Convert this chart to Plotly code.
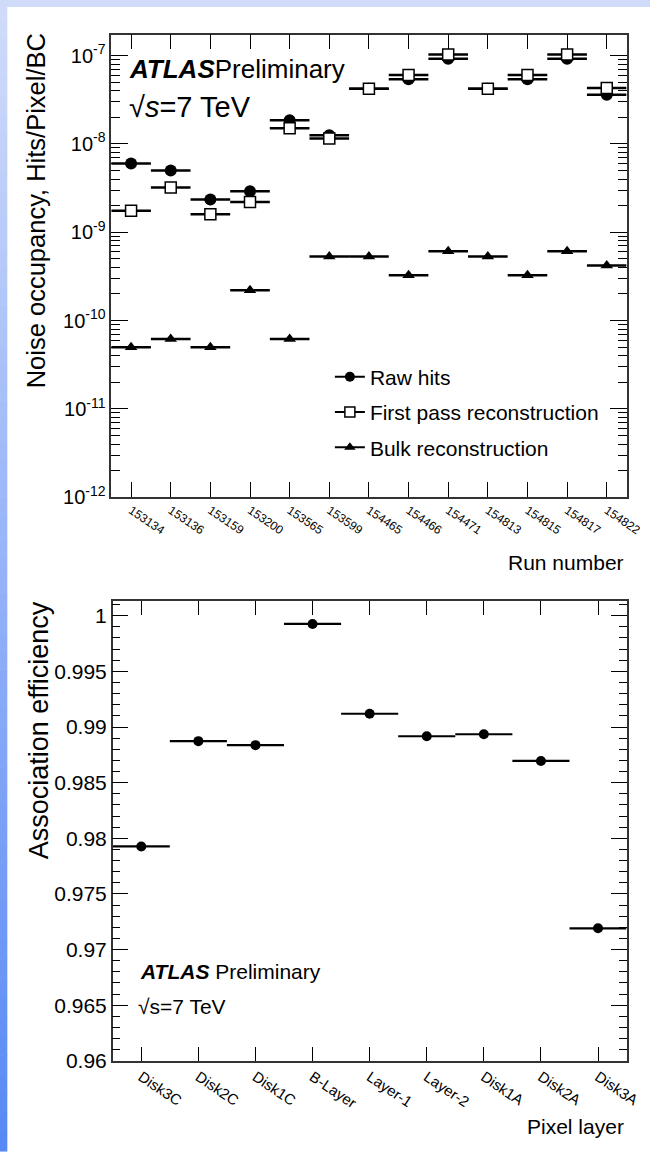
import plotly.graph_objects as go

# ---------------- data ----------------
runs = ["153134", "153136", "153159", "153200", "153565", "153599", "154465",
        "154466", "154471", "154813", "154815", "154817", "154822"]
raw_hits = [6.0e-9, 5.0e-9, 2.35e-9, 2.9e-9, 1.85e-8, 1.25e-8, 4.2e-8,
            5.4e-8, 9.2e-8, 4.2e-8, 5.4e-8, 9.2e-8, 3.6e-8]
first_pass = [1.75e-9, 3.2e-9, 1.6e-9, 2.2e-9, 1.5e-8, 1.15e-8, 4.2e-8,
              6.0e-8, 1.03e-7, 4.2e-8, 6.0e-8, 1.03e-7, 4.3e-8]
bulk = [5.0e-11, 6.2e-11, 5.0e-11, 2.2e-10, 6.2e-11, 5.3e-10, 5.3e-10,
        3.25e-10, 6.1e-10, 5.3e-10, 3.25e-10, 6.1e-10, 4.2e-10]

occ_tickvals = [1e-12, 1e-11, 1e-10, 1e-9, 1e-8, 1e-7]
occ_ticktext = ["10<sup>-12</sup>", "10<sup>-11</sup>", "10<sup>-10</sup>",
                "10<sup>-9</sup>", "10<sup>-8</sup>", "10<sup>-7</sup>"]

layers = ["Disk3C", "Disk2C", "Disk1C", "B-Layer", "Layer-1", "Layer-2",
          "Disk1A", "Disk2A", "Disk3A"]
efficiency = [0.97927, 0.98873, 0.98837, 0.99926, 0.99119, 0.98917,
              0.98935, 0.98695, 0.97191]

eff_tickvals = [0.96, 0.965, 0.97, 0.975, 0.98, 0.985, 0.99, 0.995, 1.0]
eff_ticktext = ["0.96", "0.965", "0.97", "0.975", "0.98", "0.985", "0.99", "0.995", "1"]

# ---------------- layout helpers ----------------
W, H = 666, 1162
FONT = "Liberation Sans, Arial, sans-serif"


def px(x):
    return x / W


def py(y):
    return 1 - y / H


fig = go.Figure()

x_runs = list(range(len(runs)))
x_layers = list(range(len(layers)))

# top panel traces
fig.add_trace(go.Scatter(
    x=x_runs, y=raw_hits, mode="markers", xaxis="x", yaxis="y", showlegend=False,
    marker=dict(symbol="circle", size=12, color="black"),
    error_x=dict(type="constant", value=0.5, width=0, thickness=2.5, color="black")))
fig.add_trace(go.Scatter(
    x=x_runs, y=first_pass, mode="markers", xaxis="x", yaxis="y", showlegend=False,
    marker=dict(symbol="square", size=11, color="white", line=dict(color="black", width=1.5)),
    error_x=dict(type="constant", value=0.5, width=0, thickness=2.5, color="black")))
fig.add_trace(go.Scatter(
    x=x_runs, y=bulk, mode="markers", xaxis="x", yaxis="y", showlegend=False,
    marker=dict(symbol="triangle-up", size=11, color="black"),
    error_x=dict(type="constant", value=0.5, width=0, thickness=2.5, color="black")))

# legend entries
legend_specs = [("Raw hits", dict(symbol="circle", size=10, color="black")),
                ("First pass reconstruction", dict(symbol="square", size=10, color="white",
                                                   line=dict(color="black", width=1.5))),
                ("Bulk reconstruction", dict(symbol="triangle-up", size=10, color="black"))]
for i, (name, mk) in enumerate(legend_specs):
    fig.add_trace(go.Scatter(
        x=[None], y=[None], mode="lines+markers", name=name, xaxis="x", yaxis="y",
        legendgroup=f"g{i}", line=dict(color="black", width=2), marker=mk))

# bottom panel
fig.add_trace(go.Scatter(
    x=x_layers, y=efficiency, mode="markers", xaxis="x2", yaxis="y2", showlegend=False,
    marker=dict(symbol="circle", size=10, color="black"),
    error_x=dict(type="constant", value=0.5, width=0, thickness=2.2, color="black")))

# minor ticks for log axis (axis decoration)
minor_log = [m * 10.0 ** e for e in range(-12, -6) for m in range(2, 10)]

axis_common = dict(showline=True, linecolor="#333333", linewidth=1.5, mirror="allticks",
                   ticks="inside", tickcolor="black", tickwidth=1, showgrid=False,
                   zeroline=False)

fig.update_layout(
    width=W, height=H,
    margin=dict(l=0, r=0, t=0, b=0),
    paper_bgcolor="white", plot_bgcolor="white",
    font=dict(family=FONT, color="black"),
    xaxis=dict(domain=[px(114), px(642)], anchor="y", range=[-0.5, 12.5],
               tickmode="array", tickvals=x_runs, ticktext=runs,
               ticklen=15, tickangle=34, tickfont=dict(size=12), **axis_common),
    yaxis=dict(domain=[py(502), py(35)], anchor="x", type="log", range=[-12, -6.764],
               tickmode="array", tickvals=occ_tickvals, ticktext=occ_ticktext,
               ticklen=17, tickfont=dict(size=20),
               minor=dict(tickmode="array", tickvals=minor_log, ticks="inside", ticklen=9,
                          tickcolor="black", showgrid=False),
               **axis_common),
    xaxis2=dict(domain=[px(115.5), px(642)], anchor="y2", range=[-0.5, 8.5],
                tickmode="array", tickvals=x_layers, ticktext=layers,
                ticklen=14, tickangle=34, tickfont=dict(size=15), **axis_common),
    yaxis2=dict(domain=[py(1071), py(607)], anchor="x2", range=[0.96, 1.0013],
                tickmode="array", tickvals=eff_tickvals, ticktext=eff_ticktext, ticklen=16,
                tickfont=dict(size=21),
                minor=dict(dtick=0.001, tick0=0.96, ticks="inside", ticklen=8,
                           tickcolor="black", showgrid=False),
                **axis_common),
    legend=dict(x=px(338), y=py(360), xanchor="left", yanchor="top",
                font=dict(size=21), bgcolor="rgba(0,0,0,0)", tracegroupgap=5,
                traceorder="grouped", itemwidth=30),
)

# background gradient strips (left and top)
N = 60
c0 = (208, 219, 250)
c1 = (88, 138, 245)
for i in range(N):
    t = i / (N - 1)
    col = "rgb(%d,%d,%d)" % tuple(round(a + (b - a) * t) for a, b in zip(c0, c1))
    fig.add_shape(type="rect", xref="paper", yref="paper", layer="below",
                  x0=0, x1=px(7.5), y0=py(H * (i + 1) / N) - 0.0005, y1=py(H * i / N),
                  fillcolor=col, line=dict(width=0))
fig.add_shape(type="rect", xref="paper", yref="paper", layer="below",
              x0=0, x1=1, y0=py(7), y1=1, fillcolor="rgb(208,219,250)", line=dict(width=0))

ann = []
# top panel texts
ann.append(dict(text="<b><i>ATLAS</i></b>Preliminary", x=px(130), y=py(70), xanchor="left",
                yanchor="middle", font=dict(size=26)))
ann.append(dict(text="√<i>s</i>=7 TeV", x=px(130), y=py(108), xanchor="left",
                yanchor="middle", font=dict(size=29)))
ann.append(dict(text="Noise occupancy, Hits/Pixel/BC", x=px(37), y=py(32), xanchor="center",
                yanchor="top", textangle=-90, font=dict(size=25.5)))
ann.append(dict(text="Run number", x=px(641), y=py(568), xanchor="right", yanchor="middle",
                font=dict(size=21)))
# bottom panel texts
ann.append(dict(text="<b><i>ATLAS</i></b> Preliminary", x=px(141), y=py(981), xanchor="left",
                yanchor="middle", font=dict(size=21)))
ann.append(dict(text="√s=7 TeV", x=px(139), y=py(1016), xanchor="left",
                yanchor="middle", font=dict(size=21)))
ann.append(dict(text="Association efficiency", x=px(40), y=py(605), xanchor="center",
                yanchor="top", textangle=-90, font=dict(size=27)))
ann.append(dict(text="Pixel layer", x=px(641), y=py(1137), xanchor="right", yanchor="middle",
                font=dict(size=21)))
for a in ann:
    a.update(xref="paper", yref="paper", showarrow=False)
fig.update_layout(annotations=ann)

# keep every tick label inside the 666 px page (shrink only if it would overflow)
fit_js = (
    "document.body.style.margin='0';document.body.style.overflow='hidden';"
    "var gd=document.getElementById('{plot_id}');"
    "var ts=gd.querySelectorAll('.xtick text, .x2tick text');"
    "for(var i=0;i<ts.length;i++){var t=ts[i];var n=0;"
    "while(t.getBoundingClientRect().right>663 && n<12){"
    "var fs=parseFloat(t.style.fontSize)||14;t.style.fontSize=(fs-0.5)+'px';n++;}}"
)

fig.write_html("out.html", config={"displayModeBar": False}, post_script=fit_js)
